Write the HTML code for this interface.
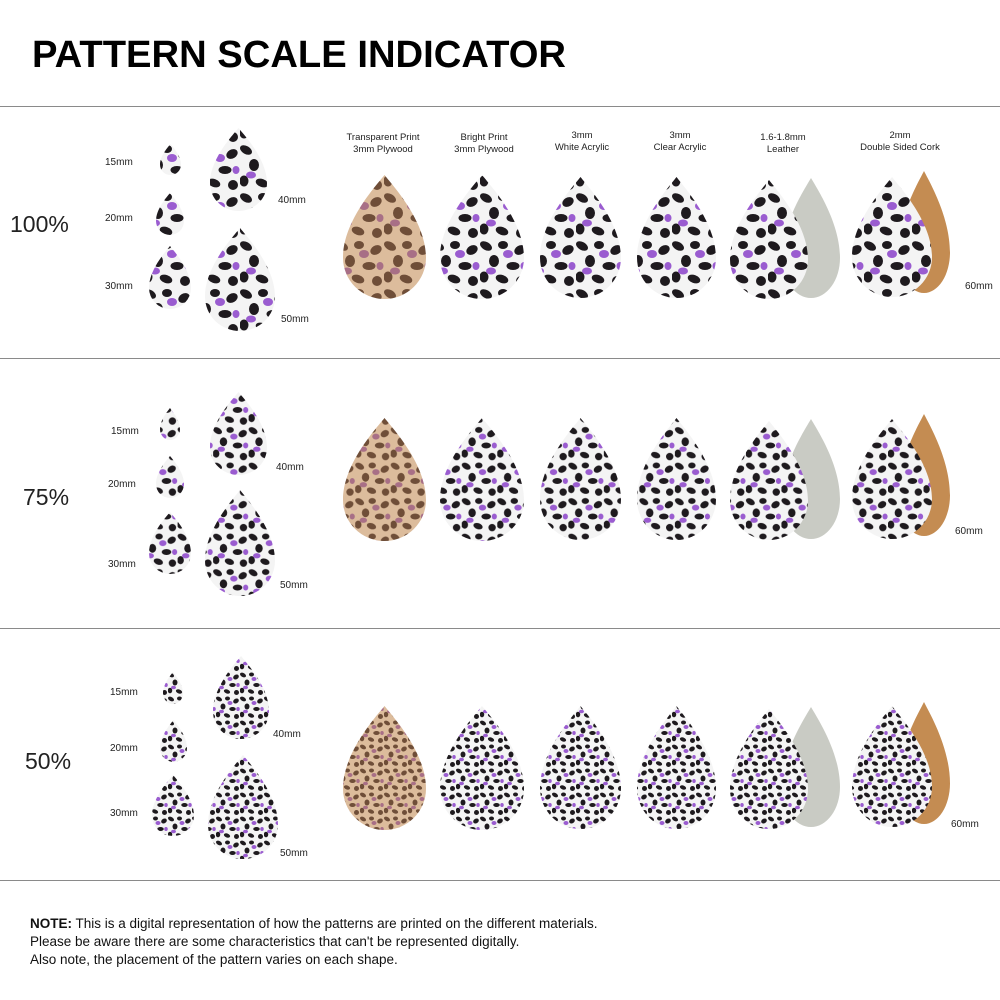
<!DOCTYPE html>
<html><head><meta charset="utf-8"><style>
html,body{margin:0;padding:0;background:#fff;}
svg{display:block;font-family:"Liberation Sans",sans-serif;}
</style></head><body>
<svg width="1000" height="1000" viewBox="0 0 1000 1000" xmlns="http://www.w3.org/2000/svg" xmlns:xlink="http://www.w3.org/1999/xlink">
<defs>
<clipPath id="tear" clipPathUnits="objectBoundingBox">
<path d="M0.5,0 C0.62,0.1 1,0.38 1,0.667 A0.5,0.333 0 0 1 0,0.667 C0,0.38 0.38,0.1 0.5,0 Z"/>
</clipPath>
<g id="spB">
<rect width="48" height="48" fill="#f4f4f4"/>
<g fill="#1e1a1e">
<ellipse cx="6" cy="6" rx="6.5" ry="4" transform="rotate(30 6 6)"/>
<ellipse cx="23" cy="5" rx="5" ry="4"/>
<ellipse cx="40" cy="10" rx="6" ry="4.5" transform="rotate(-30 40 10)"/>
<ellipse cx="14" cy="21" rx="5" ry="6"/>
<ellipse cx="33" cy="26" rx="6.5" ry="4"/>
<ellipse cx="4" cy="37" rx="4.5" ry="5.5"/>
<ellipse cx="22" cy="39" rx="6.5" ry="4" transform="rotate(20 22 39)"/>
<ellipse cx="41" cy="41" rx="5" ry="5"/>
</g>
<g fill="#9a5cd0">
<ellipse cx="28" cy="14" rx="5" ry="4"/>
<ellipse cx="11" cy="31" rx="5" ry="3.5"/>
<ellipse cx="44" cy="26" rx="3.5" ry="4"/>
</g>
</g>
<g id="spW">
<rect width="48" height="48" fill="#dcbc9c"/>
<g fill="#6f4e38">
<ellipse cx="6" cy="6" rx="6.5" ry="4" transform="rotate(30 6 6)"/>
<ellipse cx="23" cy="5" rx="5" ry="4"/>
<ellipse cx="40" cy="10" rx="6" ry="4.5" transform="rotate(-30 40 10)"/>
<ellipse cx="14" cy="21" rx="5" ry="6"/>
<ellipse cx="33" cy="26" rx="6.5" ry="4"/>
<ellipse cx="4" cy="37" rx="4.5" ry="5.5"/>
<ellipse cx="22" cy="39" rx="6.5" ry="4" transform="rotate(20 22 39)"/>
<ellipse cx="41" cy="41" rx="5" ry="5"/>
</g>
<g fill="#a86f86">
<ellipse cx="28" cy="14" rx="5" ry="4"/>
<ellipse cx="11" cy="31" rx="5" ry="3.5"/>
<ellipse cx="44" cy="26" rx="3.5" ry="4"/>
</g>
</g>
<pattern id="b100" patternUnits="userSpaceOnUse" width="48" height="48"><use href="#spB" xlink:href="#spB"/></pattern>
<pattern id="b75" patternUnits="userSpaceOnUse" width="48" height="48" patternTransform="scale(0.74)"><use href="#spB" xlink:href="#spB"/></pattern>
<pattern id="b50" patternUnits="userSpaceOnUse" width="48" height="48" patternTransform="scale(0.5)"><use href="#spB" xlink:href="#spB"/></pattern>
<pattern id="w100" patternUnits="userSpaceOnUse" width="48" height="48"><use href="#spW" xlink:href="#spW"/></pattern>
<pattern id="w75" patternUnits="userSpaceOnUse" width="48" height="48" patternTransform="scale(0.74)"><use href="#spW" xlink:href="#spW"/></pattern>
<pattern id="w50" patternUnits="userSpaceOnUse" width="48" height="48" patternTransform="scale(0.5)"><use href="#spW" xlink:href="#spW"/></pattern>
</defs>

<text x="32" y="67" font-size="38" font-weight="bold" fill="#000" textLength="534" lengthAdjust="spacingAndGlyphs">PATTERN SCALE INDICATOR</text>

<g stroke="#8a8a8a" stroke-width="1">
<line x1="0" y1="106.5" x2="1000" y2="106.5"/>
<line x1="0" y1="358.5" x2="1000" y2="358.5"/>
<line x1="0" y1="628.5" x2="1000" y2="628.5"/>
<line x1="0" y1="880.5" x2="1000" y2="880.5"/>
</g>

<g font-size="9.5" fill="#222" text-anchor="middle">
<text x="383" y="140">Transparent Print</text><text x="383" y="152">3mm Plywood</text>
<text x="484" y="140">Bright Print</text><text x="484" y="152">3mm Plywood</text>
<text x="582" y="138">3mm</text><text x="582" y="150">White Acrylic</text>
<text x="680" y="138">3mm</text><text x="680" y="150">Clear Acrylic</text>
<text x="783" y="140">1.6-1.8mm</text><text x="783" y="152">Leather</text>
<text x="900" y="138">2mm</text><text x="900" y="150">Double Sided Cork</text>
</g>

<g font-size="10" fill="#222">
<text x="105" y="165">15mm</text><text x="105" y="221">20mm</text><text x="105" y="289">30mm</text>
<text x="278" y="203">40mm</text><text x="281" y="322">50mm</text><text x="965" y="289">60mm</text>
<text x="111" y="434">15mm</text><text x="108" y="487">20mm</text><text x="108" y="567">30mm</text>
<text x="276" y="470">40mm</text><text x="280" y="588">50mm</text><text x="955" y="534">60mm</text>
<text x="110" y="695">15mm</text><text x="110" y="751">20mm</text><text x="110" y="816">30mm</text>
<text x="273" y="737">40mm</text><text x="280" y="856">50mm</text><text x="951" y="827">60mm</text>
</g>
<g font-size="23" fill="#222">
<text x="10" y="232">100%</text>
<text x="23" y="505">75%</text>
<text x="25" y="769">50%</text>
</g>

<!-- Row 1 -->
<rect x="160" y="144" width="21" height="31" fill="url(#b100)" clip-path="url(#tear)"/>
<rect x="156" y="193" width="28" height="42" fill="url(#b100)" clip-path="url(#tear)"/>
<rect x="149" y="246" width="42" height="63" fill="url(#b100)" clip-path="url(#tear)"/>
<rect x="210" y="128" width="57" height="83" fill="url(#b100)" clip-path="url(#tear)"/>
<rect x="205" y="228" width="70" height="103" fill="url(#b100)" clip-path="url(#tear)"/>
<rect x="343" y="175" width="83" height="124" fill="url(#w100)" clip-path="url(#tear)"/>
<rect x="440" y="175" width="84" height="124" fill="url(#b100)" clip-path="url(#tear)"/>
<rect x="540" y="177" width="81" height="121" fill="url(#b100)" clip-path="url(#tear)"/>
<rect x="637" y="177" width="79" height="121" fill="url(#b100)" clip-path="url(#tear)"/>
<rect x="782" y="178" width="58" height="120" fill="#c9cbc4" clip-path="url(#tear)"/>
<rect x="730" y="180" width="78" height="119" fill="url(#b100)" clip-path="url(#tear)"/>
<rect x="898" y="171" width="52" height="122" fill="#c48c52" clip-path="url(#tear)"/>
<rect x="852" y="177" width="80" height="120" fill="url(#b100)" clip-path="url(#tear)"/>

<!-- Row 2 -->
<rect x="160" y="408" width="20" height="32" fill="url(#b75)" clip-path="url(#tear)"/>
<rect x="156" y="456" width="28" height="42" fill="url(#b75)" clip-path="url(#tear)"/>
<rect x="149" y="512" width="42" height="62" fill="url(#b75)" clip-path="url(#tear)"/>
<rect x="210" y="392" width="57" height="83" fill="url(#b75)" clip-path="url(#tear)"/>
<rect x="205" y="490" width="70" height="106" fill="url(#b75)" clip-path="url(#tear)"/>
<rect x="343" y="418" width="83" height="123" fill="url(#w75)" clip-path="url(#tear)"/>
<rect x="440" y="418" width="84" height="123" fill="url(#b75)" clip-path="url(#tear)"/>
<rect x="540" y="418" width="81" height="122" fill="url(#b75)" clip-path="url(#tear)"/>
<rect x="637" y="418" width="79" height="122" fill="url(#b75)" clip-path="url(#tear)"/>
<rect x="782" y="419" width="58" height="120" fill="#c9cbc4" clip-path="url(#tear)"/>
<rect x="730" y="421" width="78" height="119" fill="url(#b75)" clip-path="url(#tear)"/>
<rect x="898" y="414" width="52" height="122" fill="#c48c52" clip-path="url(#tear)"/>
<rect x="852" y="419" width="80" height="120" fill="url(#b75)" clip-path="url(#tear)"/>

<!-- Row 3 -->
<rect x="163" y="672" width="20" height="32" fill="url(#b50)" clip-path="url(#tear)"/>
<rect x="160" y="720" width="27" height="42" fill="url(#b50)" clip-path="url(#tear)"/>
<rect x="152" y="775" width="42" height="61" fill="url(#b50)" clip-path="url(#tear)"/>
<rect x="213" y="656" width="56" height="83" fill="url(#b50)" clip-path="url(#tear)"/>
<rect x="208" y="755" width="70" height="104" fill="url(#b50)" clip-path="url(#tear)"/>
<rect x="343" y="706" width="83" height="124" fill="url(#w50)" clip-path="url(#tear)"/>
<rect x="440" y="706" width="84" height="124" fill="url(#b50)" clip-path="url(#tear)"/>
<rect x="540" y="706" width="81" height="123" fill="url(#b50)" clip-path="url(#tear)"/>
<rect x="637" y="706" width="79" height="123" fill="url(#b50)" clip-path="url(#tear)"/>
<rect x="782" y="707" width="58" height="120" fill="#c9cbc4" clip-path="url(#tear)"/>
<rect x="730" y="709" width="78" height="120" fill="url(#b50)" clip-path="url(#tear)"/>
<rect x="898" y="702" width="52" height="122" fill="#c48c52" clip-path="url(#tear)"/>
<rect x="852" y="706" width="80" height="121" fill="url(#b50)" clip-path="url(#tear)"/>

<g font-size="13.5" fill="#111">
<text x="30" y="928"><tspan font-weight="bold">NOTE:</tspan> This is a digital representation of how the patterns are printed on the different materials.</text>
<text x="30" y="946">Please be aware there are some characteristics that can't be represented digitally.</text>
<text x="30" y="964">Also note, the placement of the pattern varies on each shape.</text>
</g>
</svg>
</body></html>
